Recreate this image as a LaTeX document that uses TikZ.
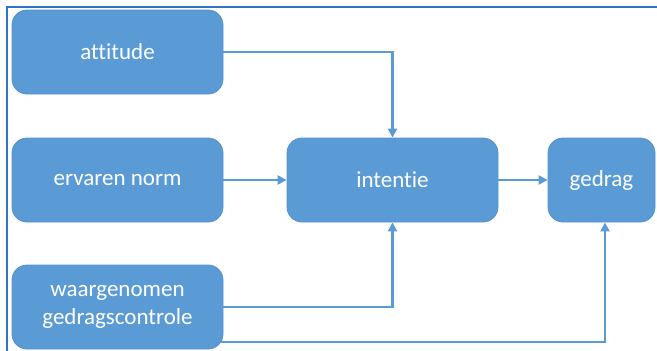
\documentclass[tikz,border=0pt]{standalone}
\usepackage{fontspec}
\setmainfont{Carlito}[RawFeature={-liga}]
\usetikzlibrary{arrows.meta}
\definecolor{boxblue}{HTML}{5B9BD5}
\definecolor{boxedge}{HTML}{5590CA}
\definecolor{frameblue}{HTML}{2E75C6}
\tikzset{
  blk/.style={rounded corners=15pt, fill=boxblue, draw=boxedge, line width=0.8pt,
    text=white, font=\fontsize{23}{28}\selectfont, align=center, inner sep=0pt,
    minimum height=84pt},
  conn/.style={draw=boxblue, line width=2.4pt, -{Triangle[width=9pt,length=9pt]}}
}
\begin{document}
\begin{tikzpicture}[x=1pt,y=-1pt]
\useasboundingbox (0,0) rectangle (657,351);
\draw[frameblue, line width=2pt] (7,351) -- (7,7) -- (657,7);
\node[blk, minimum width=211pt] (att) at (117.5,52) {attitude};
\node[blk, minimum width=211pt] (norm) at (117.5,180) {ervaren norm};
\node[blk, minimum width=211pt] (waar) at (117.5,307) {waargenomen\\gedragscontrole};
\node[blk, minimum width=211pt] (int) at (392.5,180) {intentie};
\node[blk, minimum width=107pt] (ged) at (601.5,180) {gedrag};
\coordinate (g2) at (605,342);
\draw[conn] (att.east) -| (int.north);
\draw[conn] (norm.east) -- (int.west);
\draw[conn] (int.east) -- (ged.west);
\draw[conn] (waar.east) -| (int.south);
\draw[conn] ([xshift=-4pt]waar.east |- g2) -| (g2 |- ged.south);
\end{tikzpicture}
\end{document}
